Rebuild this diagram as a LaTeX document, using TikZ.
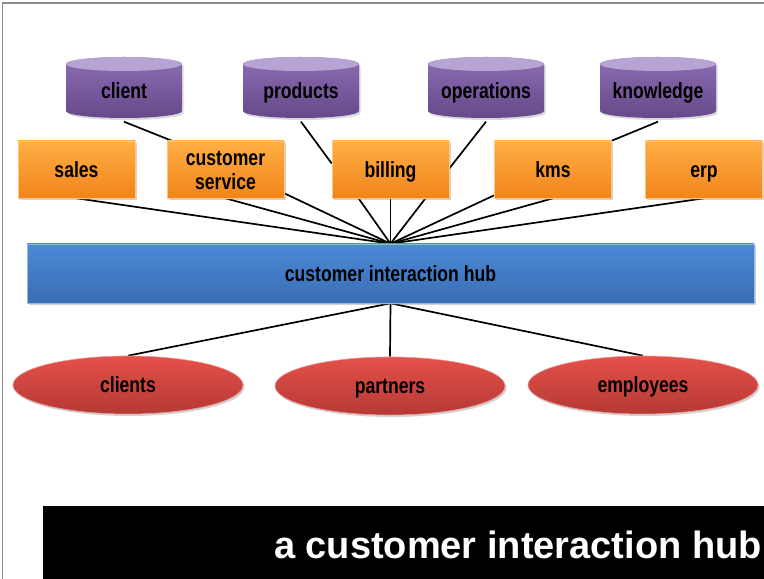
\documentclass[tikz,border=0pt]{standalone}
\usepackage{fontspec}
\setmainfont{Liberation Sans}
\usetikzlibrary{shapes.geometric,shadows,backgrounds}
\definecolor{purpTop}{HTML}{8C6DB3}
\definecolor{purpBot}{HTML}{65498A}
\definecolor{purpCap}{HTML}{B7A4D5}
\definecolor{orTop}{HTML}{FFAE45}
\definecolor{orBot}{HTML}{F0851B}
\definecolor{blTop}{HTML}{4B8AD8}
\definecolor{blBot}{HTML}{3A6DB3}
\definecolor{rdTop}{HTML}{E5504A}
\definecolor{rdBot}{HTML}{B53935}
\newcommand{\lab}[1]{\raisebox{-3pt}[\height][\depth]{\scalebox{0.8}[1]{\bfseries\fontsize{22}{25}\selectfont\strut #1}}}
\newcommand{\labtwo}[2]{\raisebox{-3pt}[\height][\depth]{\scalebox{0.8}[1]{\bfseries\fontsize{22}{24}\selectfont\begin{tabular}{@{}c@{}}#1\\#2\end{tabular}}}}
\tikzset{
  lbl/.style={text=black, inner sep=0pt},
  cylnode/.style={lbl, rectangle, minimum width=116pt, minimum height=61pt},
  boxnode/.style={lbl, rectangle, minimum width=117pt, minimum height=57pt, top color=orTop, bottom color=orBot, draw=orTop!70!white, line width=0.6pt, drop shadow={shadow xshift=1.5pt, shadow yshift=-2pt, opacity=0.35}},
  hubnode/.style={lbl, rectangle, minimum width=727pt, minimum height=59pt, top color=blTop, bottom color=blBot, draw=blTop!60!white, line width=0.6pt, drop shadow={shadow xshift=1.5pt, shadow yshift=-2pt, opacity=0.35}},
  ellnode/.style={lbl, ellipse, minimum width=230pt, minimum height=58pt, top color=rdTop, bottom color=rdBot, draw=rdTop!60!white, line width=0.6pt, drop shadow={shadow xshift=1.5pt, shadow yshift=-2pt, opacity=0.35}},
  link/.style={line width=1.7pt, black},
}
\newcommand{\mycyl}[3]{%
  \shade[top color=purpTop, bottom color=purpBot, drop shadow={shadow xshift=1.5pt, shadow yshift=-2pt, opacity=0.3}]
    (#2-58, 515) -- (#2-58, 468) arc[start angle=180, end angle=360, x radius=58, y radius=7]
    -- (#2+58, 515) arc[start angle=0, end angle=180, x radius=58, y radius=7] -- cycle;
  \fill[purpCap] (#2, 515) ellipse[x radius=58, y radius=7];
  \node[cylnode] (#1) at (#2, 488) {\lab{#3}};
}
\begin{document}
\begin{tikzpicture}[x=1pt, y=1pt]
\useasboundingbox (0,0) rectangle (764,579);
\draw[gray!90, line width=1.5pt] (2.5,0) -- (2.5,576) -- (764,576);

% data stores
\mycyl{client}{124}{client}
\mycyl{products}{301}{products}
\mycyl{operations}{486}{operations}
\mycyl{knowledge}{658}{knowledge}

% systems
\node[boxnode] (sales) at (76.5,409.5) {\lab{sales}};
\node[boxnode] (cs) at (225.5,409.5) {\labtwo{customer}{service}};
\node[boxnode] (billing) at (390.5,409.5) {\lab{billing}};
\node[boxnode] (kms) at (553,409.5) {\lab{kms}};
\node[boxnode] (erp) at (704,409.5) {\lab{erp}};

% hub
\node[hubnode] (hub) at (390.5,305.5) {\lab{customer interaction hub}};

% channels
\node[ellnode] (clients) at (128,194) {\lab{clients}};
\node[ellnode] (partners) at (390,193) {\lab{partners}};
\node[ellnode] (employees) at (643,194) {\lab{employees}};

\begin{scope}[on background layer]
\fill[white] (0,0) rectangle (764,579);
\draw[link] (client.south) -- ([xshift=5pt]cs.north west);
\draw[link] (products.south) -- ([yshift=6pt]billing.west);
\draw[link] (operations.south) -- ([yshift=1pt]billing.east);
\draw[link] (knowledge.south) -- (kms.north east);
\draw[link] (hub.north) -- (sales.south);
\draw[link] (hub.north) -- (cs.south);
\draw[link] (hub.north) -- ([yshift=5pt]cs.south east);
\draw[link] (hub.north) -- ([xshift=-32pt]billing.south);
\draw[link] (hub.north) -- (billing.south);
\draw[link] (hub.north) -- ([xshift=35pt]billing.south);
\draw[link] (hub.north) -- ([yshift=3pt]kms.south west);
\draw[link] (hub.north) -- (kms.south);
\draw[link] (hub.north) -- (erp.south);
\draw[link] (hub.south) -- (clients.north);
\draw[link] (hub.south) -- (partners.north);
\draw[link] (hub.south) -- (employees.north);
\end{scope}

% title bar
\fill[black] (43,0) rectangle (764,73);
\node[font=\bfseries\fontsize{38}{42}\selectfont, text=white, anchor=east, inner sep=0pt] (title) at (762,34) {a customer interaction hub};
\end{tikzpicture}
\end{document}
